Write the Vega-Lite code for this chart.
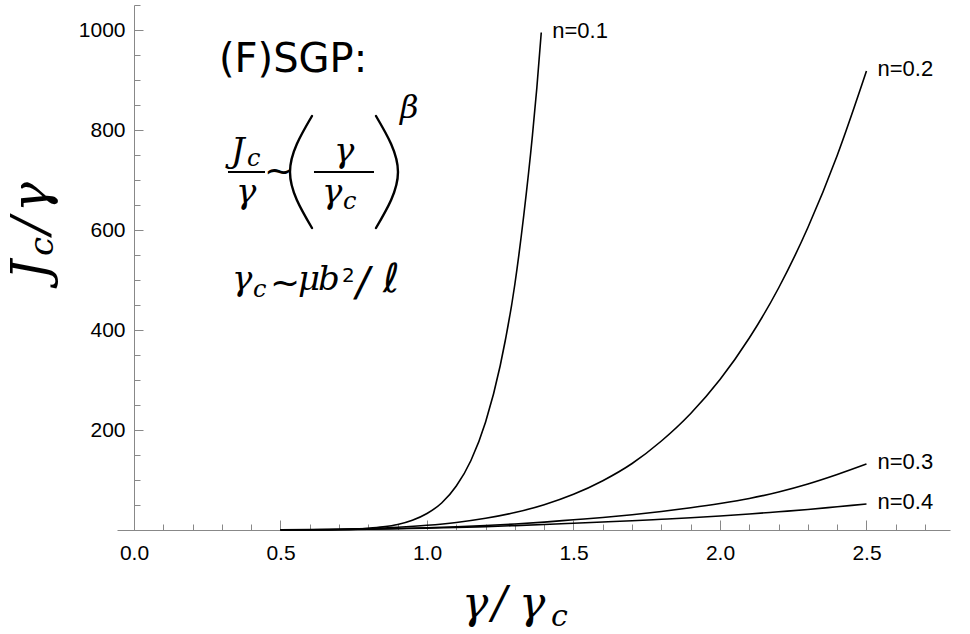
{
  "$schema": "https://vega.github.io/schema/vega-lite/v6.json",
  "width": 833,
  "height": 525,
  "autosize": {"type": "none"},
  "padding": {"left": 117, "top": 5, "right": 20, "bottom": 104},
  "background": "white",
  "config": {"view": {"stroke": null}, "axis": {"grid": false}},
  "datasets": {
    "curves": [
      {"n": "0.1", "x": 0.5, "y": 0}, {"n": "0.1", "x": 0.6, "y": 0.2}, {"n": "0.1", "x": 0.7, "y": 0.8}, {"n": "0.1", "x": 0.8, "y": 3.3}, {"n": "0.1", "x": 0.85, "y": 6.2}, {"n": "0.1", "x": 0.9, "y": 11}, {"n": "0.1", "x": 0.95, "y": 19.5}, {"n": "0.1", "x": 1.0, "y": 33}, {"n": "0.1", "x": 1.05, "y": 54}, {"n": "0.1", "x": 1.1, "y": 88}, {"n": "0.1", "x": 1.15, "y": 139}, {"n": "0.1", "x": 1.2, "y": 216}, {"n": "0.1", "x": 1.25, "y": 329}, {"n": "0.1", "x": 1.3, "y": 492}, {"n": "0.1", "x": 1.33, "y": 628}, {"n": "0.1", "x": 1.36, "y": 790}, {"n": "0.1", "x": 1.375, "y": 885}, {"n": "0.1", "x": 1.39, "y": 995},
      {"n": "0.2", "x": 0.5, "y": 0.3}, {"n": "0.2", "x": 0.6, "y": 0.7}, {"n": "0.2", "x": 0.7, "y": 1.6}, {"n": "0.2", "x": 0.8, "y": 3.1}, {"n": "0.2", "x": 0.9, "y": 5.6}, {"n": "0.2", "x": 1.0, "y": 9.4}, {"n": "0.2", "x": 1.1, "y": 15.1}, {"n": "0.2", "x": 1.2, "y": 23.4}, {"n": "0.2", "x": 1.3, "y": 34.9}, {"n": "0.2", "x": 1.4, "y": 50.6}, {"n": "0.2", "x": 1.5, "y": 71.4}, {"n": "0.2", "x": 1.6, "y": 98.6}, {"n": "0.2", "x": 1.7, "y": 133}, {"n": "0.2", "x": 1.8, "y": 178}, {"n": "0.2", "x": 1.9, "y": 233}, {"n": "0.2", "x": 2.0, "y": 301}, {"n": "0.2", "x": 2.1, "y": 384}, {"n": "0.2", "x": 2.2, "y": 484}, {"n": "0.2", "x": 2.3, "y": 605}, {"n": "0.2", "x": 2.4, "y": 749}, {"n": "0.2", "x": 2.5, "y": 918},
      {"n": "0.3", "x": 0.5, "y": 0.3}, {"n": "0.3", "x": 0.6, "y": 0.6}, {"n": "0.3", "x": 0.7, "y": 1.1}, {"n": "0.3", "x": 0.8, "y": 1.9}, {"n": "0.3", "x": 0.9, "y": 3}, {"n": "0.3", "x": 1.0, "y": 4.5}, {"n": "0.3", "x": 1.1, "y": 6.5}, {"n": "0.3", "x": 1.2, "y": 9}, {"n": "0.3", "x": 1.3, "y": 12}, {"n": "0.3", "x": 1.4, "y": 15.8}, {"n": "0.3", "x": 1.5, "y": 20.5}, {"n": "0.3", "x": 1.6, "y": 25}, {"n": "0.3", "x": 1.7, "y": 30.5}, {"n": "0.3", "x": 1.8, "y": 37}, {"n": "0.3", "x": 1.9, "y": 44.5}, {"n": "0.3", "x": 2.0, "y": 53}, {"n": "0.3", "x": 2.1, "y": 63}, {"n": "0.3", "x": 2.2, "y": 76}, {"n": "0.3", "x": 2.3, "y": 92}, {"n": "0.3", "x": 2.4, "y": 111}, {"n": "0.3", "x": 2.5, "y": 132},
      {"n": "0.4", "x": 0.5, "y": 0.3}, {"n": "0.4", "x": 0.6, "y": 0.5}, {"n": "0.4", "x": 0.7, "y": 0.9}, {"n": "0.4", "x": 0.8, "y": 1.6}, {"n": "0.4", "x": 0.9, "y": 2.5}, {"n": "0.4", "x": 1.0, "y": 3.7}, {"n": "0.4", "x": 1.1, "y": 5}, {"n": "0.4", "x": 1.2, "y": 6.7}, {"n": "0.4", "x": 1.3, "y": 8.7}, {"n": "0.4", "x": 1.4, "y": 11}, {"n": "0.4", "x": 1.5, "y": 13.5}, {"n": "0.4", "x": 1.6, "y": 16}, {"n": "0.4", "x": 1.7, "y": 18.5}, {"n": "0.4", "x": 1.8, "y": 21.5}, {"n": "0.4", "x": 1.9, "y": 24.5}, {"n": "0.4", "x": 2.0, "y": 28}, {"n": "0.4", "x": 2.1, "y": 32}, {"n": "0.4", "x": 2.2, "y": 36.5}, {"n": "0.4", "x": 2.3, "y": 41}, {"n": "0.4", "x": 2.4, "y": 46.5}, {"n": "0.4", "x": 2.5, "y": 52}
    ],
    "ends": [
      {"label": "n=0.1", "x": 1.39, "y": 995},
      {"label": "n=0.2", "x": 2.5, "y": 918},
      {"label": "n=0.3", "x": 2.5, "y": 132},
      {"label": "n=0.4", "x": 2.5, "y": 52}
    ],
    "heading": [{"t": "(F)SGP:", "x": 0.2901, "y": 916}],
    "math": [
      {"t": "J", "x": 0.3311, "y": 736},
      {"t": "γ", "x": 0.3481, "y": 654},
      {"t": "γ", "x": 0.6826, "y": 736},
      {"t": "γ", "x": 0.6416, "y": 654},
      {"t": "γ", "x": 0.3345, "y": 480},
      {"t": "μ", "x": 0.5597, "y": 480},
      {"t": "b", "x": 0.628, "y": 480}
    ],
    "subs": [
      {"t": "c", "x": 0.3857, "y": 728},
      {"t": "c", "x": 0.7133, "y": 642},
      {"t": "c", "x": 0.4061, "y": 466}
    ],
    "beta": [{"t": "β", "x": 0.9078, "y": 824}],
    "ops": [
      {"t": "~", "x": 0.4437, "y": 694},
      {"t": "~", "x": 0.4642, "y": 470}
    ],
    "slashell": [
      {"t": "/", "x": 0.7577, "y": 468},
      {"t": "ℓ", "x": 0.8498, "y": 476}
    ],
    "sup": [{"t": "2", "x": 0.7099, "y": 496}],
    "bars": [
      {"x": 0.3208, "x2": 0.4471, "y": 716},
      {"x": 0.6143, "x2": 0.8191, "y": 716}
    ],
    "parens": [
      {"p": "L", "o": 1, "x": 0.6075, "y": 828}, {"p": "L", "o": 2, "x": 0.5324, "y": 716}, {"p": "L", "o": 3, "x": 0.6075, "y": 604},
      {"p": "R", "o": 1, "x": 0.8259, "y": 828}, {"p": "R", "o": 2, "x": 0.901, "y": 716}, {"p": "R", "o": 3, "x": 0.8259, "y": 604}
    ],
    "ytitle": [
      {"t": "J", "x": -0.2969, "y": 500},
      {"t": "/", "x": -0.2969, "y": 592},
      {"t": "γ", "x": -0.2969, "y": 636}
    ],
    "ytitlesub": [{"t": "c", "x": -0.2765, "y": 548}],
    "xtitle": [
      {"t": "γ", "x": 1.1195, "y": -176},
      {"t": "/", "x": 1.2219, "y": -176},
      {"t": "γ", "x": 1.3140, "y": -176}
    ],
    "xtitlesub": [{"t": "c", "x": 1.4232, "y": -192}]
  },
  "resolve": {"axis": {"x": "independent", "y": "independent"}},
  "layer": [
    {
      "data": {"name": "curves"},
      "mark": {"type": "point", "opacity": 0},
      "encoding": {
        "x": {"field": "x", "type": "quantitative", "scale": {"domain": [-0.058, 2.785], "nice": false, "zero": false},
          "axis": {"orient": "bottom", "values": [0.1, 0.2, 0.3, 0.4, 0.6, 0.7, 0.8, 0.9, 1.1, 1.2, 1.3, 1.4, 1.6, 1.7, 1.8, 1.9, 2.1, 2.2, 2.3, 2.4, 2.6, 2.7], "tickSize": -6, "tickColor": "#888", "tickWidth": 1, "labels": false, "domain": false, "title": null}},
        "y": {"field": "y", "type": "quantitative", "scale": {"domain": [0, 1050], "nice": false, "zero": false},
          "axis": {"orient": "left", "offset": -17, "values": [50, 100, 150, 250, 300, 350, 450, 500, 550, 650, 700, 750, 850, 900, 950, 1050], "tickSize": -6, "tickColor": "#888", "tickWidth": 1, "labels": false, "domain": false, "title": null}}
      }
    },
    {
      "data": {"name": "curves"},
      "mark": {"type": "line", "color": "black", "strokeWidth": 1.6, "interpolate": "monotone"},
      "encoding": {
        "x": {"field": "x", "type": "quantitative", "scale": {"domain": [-0.058, 2.785], "nice": false, "zero": false},
          "axis": {"orient": "bottom", "values": [0, 0.5, 1, 1.5, 2, 2.5], "format": ".1f", "tickSize": -10, "tickColor": "#888", "tickWidth": 1, "domainColor": "#888", "domainWidth": 1, "labelFont": "Liberation Sans", "labelFontSize": 21, "labelColor": "#000", "labelPadding": 22, "labelFlush": false, "labelOverlap": false, "title": null}},
        "y": {"field": "y", "type": "quantitative", "scale": {"domain": [0, 1050], "nice": false, "zero": false},
          "axis": {"orient": "left", "offset": -17, "values": [200, 400, 600, 800, 1000], "format": "d", "tickSize": -9, "tickColor": "#888", "tickWidth": 1, "domainColor": "#888", "domainWidth": 1, "labelFont": "Liberation Sans", "labelFontSize": 21, "labelColor": "#000", "labelPadding": 18, "labelOverlap": false, "title": null}},
        "detail": {"field": "n", "type": "nominal"}
      }
    },
    {
      "data": {"name": "ends"},
      "mark": {"type": "text", "align": "left", "baseline": "middle", "dx": 11, "dy": -2, "font": "Liberation Sans", "fontSize": 22, "color": "black"},
      "encoding": {
        "x": {"field": "x", "type": "quantitative", "scale": {"domain": [-0.058, 2.785], "nice": false, "zero": false}, "axis": null},
        "y": {"field": "y", "type": "quantitative", "scale": {"domain": [0, 1050], "nice": false, "zero": false}, "axis": null},
        "text": {"field": "label"}
      }
    },
    {
      "data": {"name": "heading"},
      "mark": {"type": "text", "align": "left", "baseline": "alphabetic", "font": "DejaVu Sans", "fontSize": 40, "color": "black"},
      "encoding": {
        "x": {"field": "x", "type": "quantitative", "scale": {"domain": [-0.058, 2.785], "nice": false, "zero": false}, "axis": null},
        "y": {"field": "y", "type": "quantitative", "scale": {"domain": [0, 1050], "nice": false, "zero": false}, "axis": null},
        "text": {"field": "t"}
      }
    },
    {
      "data": {"name": "math"},
      "mark": {"type": "text", "align": "left", "baseline": "alphabetic", "font": "DejaVu Serif", "fontStyle": "italic", "fontSize": 34, "color": "black"},
      "encoding": {
        "x": {"field": "x", "type": "quantitative", "scale": {"domain": [-0.058, 2.785], "nice": false, "zero": false}, "axis": null},
        "y": {"field": "y", "type": "quantitative", "scale": {"domain": [0, 1050], "nice": false, "zero": false}, "axis": null},
        "text": {"field": "t"}
      }
    },
    {
      "data": {"name": "subs"},
      "mark": {"type": "text", "align": "left", "baseline": "alphabetic", "font": "DejaVu Serif", "fontStyle": "italic", "fontSize": 24, "color": "black"},
      "encoding": {
        "x": {"field": "x", "type": "quantitative", "scale": {"domain": [-0.058, 2.785], "nice": false, "zero": false}, "axis": null},
        "y": {"field": "y", "type": "quantitative", "scale": {"domain": [0, 1050], "nice": false, "zero": false}, "axis": null},
        "text": {"field": "t"}
      }
    },
    {
      "data": {"name": "beta"},
      "mark": {"type": "text", "align": "left", "baseline": "alphabetic", "font": "DejaVu Serif", "fontStyle": "italic", "fontSize": 32, "color": "black"},
      "encoding": {
        "x": {"field": "x", "type": "quantitative", "scale": {"domain": [-0.058, 2.785], "nice": false, "zero": false}, "axis": null},
        "y": {"field": "y", "type": "quantitative", "scale": {"domain": [0, 1050], "nice": false, "zero": false}, "axis": null},
        "text": {"field": "t"}
      }
    },
    {
      "data": {"name": "ops"},
      "mark": {"type": "text", "align": "left", "baseline": "alphabetic", "font": "DejaVu Sans", "fontSize": 36, "color": "black"},
      "encoding": {
        "x": {"field": "x", "type": "quantitative", "scale": {"domain": [-0.058, 2.785], "nice": false, "zero": false}, "axis": null},
        "y": {"field": "y", "type": "quantitative", "scale": {"domain": [0, 1050], "nice": false, "zero": false}, "axis": null},
        "text": {"field": "t"}
      }
    },
    {
      "data": {"name": "slashell"},
      "mark": {"type": "text", "align": "left", "baseline": "alphabetic", "font": "DejaVu Sans", "fontStyle": "italic", "fontSize": 40, "color": "black"},
      "encoding": {
        "x": {"field": "x", "type": "quantitative", "scale": {"domain": [-0.058, 2.785], "nice": false, "zero": false}, "axis": null},
        "y": {"field": "y", "type": "quantitative", "scale": {"domain": [0, 1050], "nice": false, "zero": false}, "axis": null},
        "text": {"field": "t"}
      }
    },
    {
      "data": {"name": "sup"},
      "mark": {"type": "text", "align": "left", "baseline": "alphabetic", "font": "DejaVu Sans", "fontSize": 20, "color": "black"},
      "encoding": {
        "x": {"field": "x", "type": "quantitative", "scale": {"domain": [-0.058, 2.785], "nice": false, "zero": false}, "axis": null},
        "y": {"field": "y", "type": "quantitative", "scale": {"domain": [0, 1050], "nice": false, "zero": false}, "axis": null},
        "text": {"field": "t"}
      }
    },
    {
      "data": {"name": "bars"},
      "mark": {"type": "rule", "color": "black", "strokeWidth": 2},
      "encoding": {
        "x": {"field": "x", "type": "quantitative", "scale": {"domain": [-0.058, 2.785], "nice": false, "zero": false}, "axis": null},
        "x2": {"field": "x2"},
        "y": {"field": "y", "type": "quantitative", "scale": {"domain": [0, 1050], "nice": false, "zero": false}, "axis": null}
      }
    },
    {
      "data": {"name": "parens"},
      "mark": {"type": "line", "color": "black", "strokeWidth": 2.4, "interpolate": "natural", "strokeCap": "round"},
      "encoding": {
        "x": {"field": "x", "type": "quantitative", "scale": {"domain": [-0.058, 2.785], "nice": false, "zero": false}, "axis": null},
        "y": {"field": "y", "type": "quantitative", "scale": {"domain": [0, 1050], "nice": false, "zero": false}, "axis": null},
        "detail": {"field": "p", "type": "nominal"},
        "order": {"field": "o", "type": "quantitative"}
      }
    },
    {
      "data": {"name": "ytitle"},
      "mark": {"type": "text", "align": "left", "baseline": "alphabetic", "angle": 270, "font": "DejaVu Serif", "fontStyle": "italic", "fontSize": 50, "color": "black"},
      "encoding": {
        "x": {"field": "x", "type": "quantitative", "scale": {"domain": [-0.058, 2.785], "nice": false, "zero": false}, "axis": null},
        "y": {"field": "y", "type": "quantitative", "scale": {"domain": [0, 1050], "nice": false, "zero": false}, "axis": null},
        "text": {"field": "t"}
      }
    },
    {
      "data": {"name": "ytitlesub"},
      "mark": {"type": "text", "align": "left", "baseline": "alphabetic", "angle": 270, "font": "DejaVu Serif", "fontStyle": "italic", "fontSize": 34, "color": "black"},
      "encoding": {
        "x": {"field": "x", "type": "quantitative", "scale": {"domain": [-0.058, 2.785], "nice": false, "zero": false}, "axis": null},
        "y": {"field": "y", "type": "quantitative", "scale": {"domain": [0, 1050], "nice": false, "zero": false}, "axis": null},
        "text": {"field": "t"}
      }
    },
    {
      "data": {"name": "xtitle"},
      "mark": {"type": "text", "align": "left", "baseline": "alphabetic", "font": "DejaVu Serif", "fontStyle": "italic", "fontSize": 44, "color": "black"},
      "encoding": {
        "x": {"field": "x", "type": "quantitative", "scale": {"domain": [-0.058, 2.785], "nice": false, "zero": false}, "axis": null},
        "y": {"field": "y", "type": "quantitative", "scale": {"domain": [0, 1050], "nice": false, "zero": false}, "axis": null},
        "text": {"field": "t"}
      }
    },
    {
      "data": {"name": "xtitlesub"},
      "mark": {"type": "text", "align": "left", "baseline": "alphabetic", "font": "DejaVu Serif", "fontStyle": "italic", "fontSize": 30, "color": "black"},
      "encoding": {
        "x": {"field": "x", "type": "quantitative", "scale": {"domain": [-0.058, 2.785], "nice": false, "zero": false}, "axis": null},
        "y": {"field": "y", "type": "quantitative", "scale": {"domain": [0, 1050], "nice": false, "zero": false}, "axis": null},
        "text": {"field": "t"}
      }
    }
  ]
}
